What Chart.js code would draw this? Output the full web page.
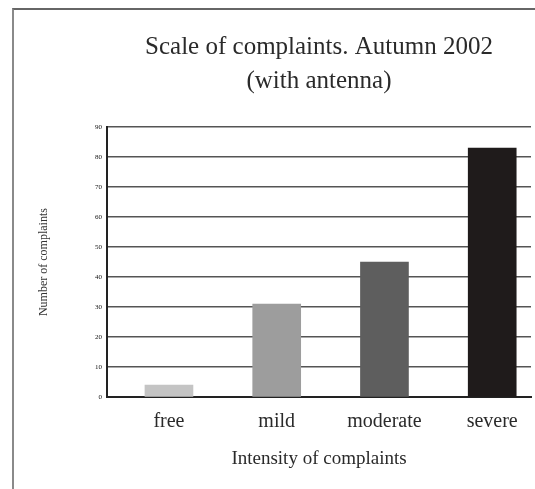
<!DOCTYPE html>
<html>
<head>
<meta charset="utf-8">
<script src="https://cdn.jsdelivr.net/npm/chart.js@4"></script>
<style>
  html, body { margin: 0; padding: 0; background: #fff; overflow: hidden; }
  #wrap { position: relative; width: 535px; height: 489px; }
  #frame { position: absolute; left: 12px; top: 8px; width: 540px; height: 479px;
           border-left: 2px solid #8a8a8a; border-top: 2px solid #666; border-bottom: 1px solid #bbb;
           pointer-events: none; }
  canvas { position: absolute; left: 0; top: 0; }
</style>
</head>
<body>
<div id="wrap">
  <canvas id="c" width="535" height="489"></canvas>
  <div id="frame"></div>
</div>
<script>
const categories = ['free', 'mild', 'moderate', 'severe'];
const complaints = [4, 31, 45, 83];
const barColors = ['#c4c4c4', '#9d9d9d', '#5e5e5e', '#1f1b1b'];
const yTicks = [0, 10, 20, 30, 40, 50, 60, 70, 80, 90];
const titleLines = ['Scale of complaints. Autumn 2002', '(with antenna)'];
const xTitle = 'Intensity of complaints';
const yTitle = 'Number of complaints';

const serif = '"Liberation Serif", "DejaVu Serif", serif';

new Chart(document.getElementById('c'), {
  type: 'bar',
  data: {
    datasets: [{
      data: categories.map((c, i) => ({ x: i, y: complaints[i] })),
      backgroundColor: barColors,
      borderWidth: 0,
      barThickness: 48
    }]
  },
  options: {
    responsive: false,
    animation: false,
    devicePixelRatio: 1,
    layout: { padding: { left: 33, right: 4, top: 8, bottom: 15 } },
    plugins: {
      legend: { display: false },
      tooltip: { enabled: false },
      title: {
        display: true,
        text: titleLines,
        fullSize: false,
        color: '#2a2a2a',
        font: { family: serif, size: 25, weight: 'normal', lineHeight: 1.36 },
        padding: { top: 22, bottom: 29 }
      }
    },
    scales: {
      x: {
        type: 'linear',
        offset: false,
        min: -0.575,
        max: 3.36,
        afterBuildTicks: s => { s.ticks = categories.map((c, i) => ({ value: i })); },
        ticks: {
          callback: v => categories[v],
          color: '#2a2a2a',
          font: { family: serif, size: 20, lineHeight: 1.0 },
          padding: 15,
          maxRotation: 0,
          autoSkip: false
        },
        grid: { display: false, drawTicks: false, offset: false },
        border: { display: true, color: '#222', width: 2 },
        title: {
          display: true,
          text: xTitle,
          color: '#2a2a2a',
          font: { family: serif, size: 19 },
          padding: { top: 0, bottom: 4 }
        }
      },
      y: {
        min: 0,
        max: 90,
        afterBuildTicks: s => { s.ticks = yTicks.map(v => ({ value: v })); },
        afterFit: s => { s.width = 74; },
        ticks: {
          color: '#111',
          font: { family: serif, size: 7 },
          padding: 5
        },
        grid: { color: '#555', lineWidth: 1.5, drawTicks: false },
        border: { display: true, color: '#222', width: 2 },
        title: {
          display: true,
          text: yTitle,
          color: '#333',
          font: { family: serif, size: 12 },
          padding: { top: 4, bottom: 0 }
        }
      }
    }
  }
});
</script>
</body>
</html>
